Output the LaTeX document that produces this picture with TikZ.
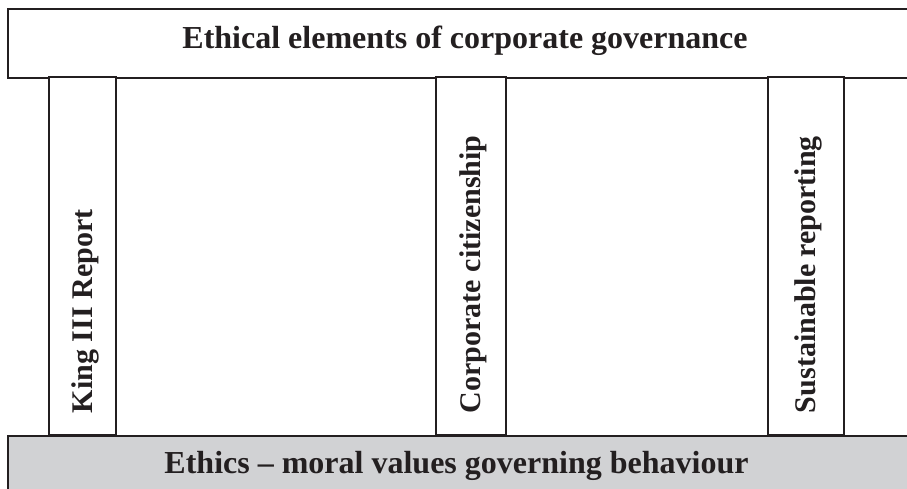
\documentclass[tikz,border=0pt]{standalone}
\usepackage{fontspec}
\setmainfont{Liberation Serif}
\usepackage{tikz}
\definecolor{ink}{HTML}{231F20}
\definecolor{floor}{HTML}{D1D2D4}
\tikzset{
  every node/.style={font=\fontsize{32}{38}\selectfont\bfseries,text=ink},
  frame/.style={draw=ink,line width=1.6pt,inner sep=0pt},
  bar/.style={frame,fill=floor},
  heading/.style={inner sep=0pt},
  % one upright pillar, its caption running upwards from the foot
  pillar/.style={frame,fill=white,rotate=90,minimum width=358pt,minimum height=#1,
    font=\fontsize{30}{36}\selectfont\bfseries,
    text width=314pt,align=flush left,inner xsep=22pt,inner ysep=0pt,
    text height=23pt,text depth=4pt}
}
\begin{document}
\begin{tikzpicture}[x=1pt,y=-1pt]
  \clip (0,0) rectangle (907,489);
  \fill[white] (0,0) rectangle (907,489);

  % roof
  \node[frame,anchor=north west,minimum width=960pt,minimum height=69pt] (head) at (7,8) {};
  \node[heading,anchor=base] (title) at (465,49) {Ethical elements of corporate governance};

  % pillars
  \node[pillar=67pt] (king) at (82.5,256) {King III Report};
  \node[pillar=70pt] (citizen) at (471,256) {Corporate citizenship};
  \node[pillar=76pt] (report) at (806,256) {Sustainable reporting};

  % foundation
  \node[bar,anchor=north west,minimum width=960pt,minimum height=70pt] (base) at (7,435) {};
  \node[heading,anchor=base] (ethics) at (456.5,473) {Ethics -- moral values governing behaviour};
\end{tikzpicture}
\end{document}
